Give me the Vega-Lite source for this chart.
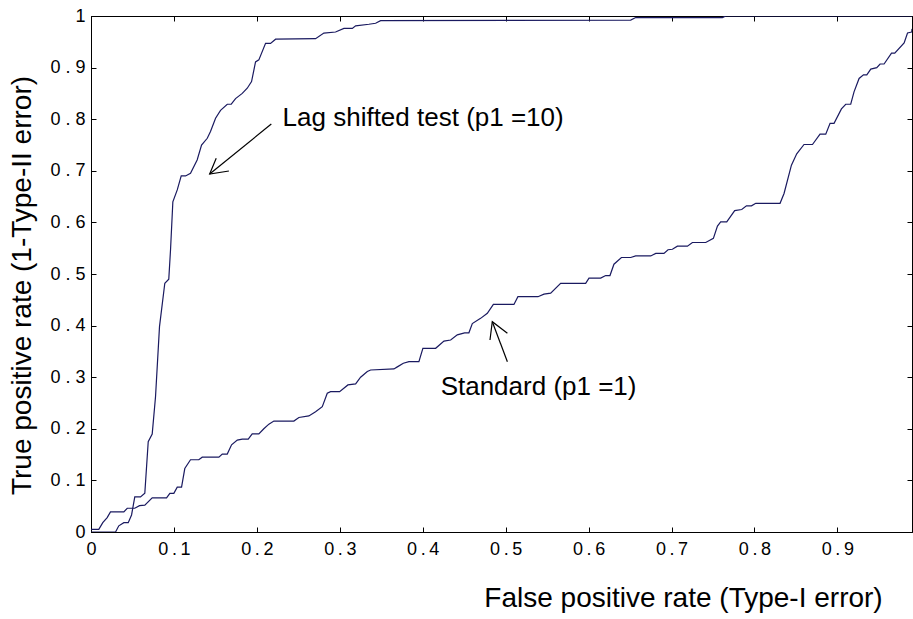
{
  "$schema": "https://vega.github.io/schema/vega-lite/v6.json",
  "width": 821,
  "height": 516,
  "autosize": "none",
  "padding": {"left": 91, "top": 16, "right": 1, "bottom": 87},
  "background": "white",
  "config": {
    "view": {"stroke": "black", "strokeWidth": 1},
    "font": "Liberation Sans",
    "axis": {"grid": false, "domainColor": "black", "tickColor": "black", "labelColor": "black", "titleColor": "black", "labelFont": "Liberation Sans", "titleFont": "Liberation Sans", "titleFontWeight": "normal"}
  },
  "datasets": {
    "curves": [
      {"s": "lag", "x": 0, "y": 0},
      {"s": "lag", "x": 0.0296, "y": 0},
      {"s": "lag", "x": 0.0335, "y": 0.012},
      {"s": "lag", "x": 0.0396, "y": 0.018},
      {"s": "lag", "x": 0.0449, "y": 0.018},
      {"s": "lag", "x": 0.0489, "y": 0.033},
      {"s": "lag", "x": 0.0528, "y": 0.068},
      {"s": "lag", "x": 0.0597, "y": 0.068},
      {"s": "lag", "x": 0.0649, "y": 0.075},
      {"s": "lag", "x": 0.069, "y": 0.175},
      {"s": "lag", "x": 0.0738, "y": 0.19},
      {"s": "lag", "x": 0.0778, "y": 0.262},
      {"s": "lag", "x": 0.0826, "y": 0.398},
      {"s": "lag", "x": 0.089, "y": 0.482},
      {"s": "lag", "x": 0.0938, "y": 0.49},
      {"s": "lag", "x": 0.0959, "y": 0.547},
      {"s": "lag", "x": 0.0987, "y": 0.64},
      {"s": "lag", "x": 0.104, "y": 0.663},
      {"s": "lag", "x": 0.1088, "y": 0.69},
      {"s": "lag", "x": 0.114, "y": 0.69},
      {"s": "lag", "x": 0.12, "y": 0.695},
      {"s": "lag", "x": 0.128, "y": 0.721},
      {"s": "lag", "x": 0.1333, "y": 0.75},
      {"s": "lag", "x": 0.1402, "y": 0.763},
      {"s": "lag", "x": 0.1441, "y": 0.776},
      {"s": "lag", "x": 0.1502, "y": 0.802},
      {"s": "lag", "x": 0.1562, "y": 0.817},
      {"s": "lag", "x": 0.1643, "y": 0.829},
      {"s": "lag", "x": 0.1691, "y": 0.829},
      {"s": "lag", "x": 0.1743, "y": 0.84},
      {"s": "lag", "x": 0.1824, "y": 0.85},
      {"s": "lag", "x": 0.1884, "y": 0.86},
      {"s": "lag", "x": 0.1936, "y": 0.873},
      {"s": "lag", "x": 0.1984, "y": 0.911},
      {"s": "lag", "x": 0.2024, "y": 0.915},
      {"s": "lag", "x": 0.2105, "y": 0.947},
      {"s": "lag", "x": 0.2165, "y": 0.947},
      {"s": "lag", "x": 0.2226, "y": 0.955},
      {"s": "lag", "x": 0.2708, "y": 0.956},
      {"s": "lag", "x": 0.2808, "y": 0.967},
      {"s": "lag", "x": 0.2949, "y": 0.969},
      {"s": "lag", "x": 0.305, "y": 0.976},
      {"s": "lag", "x": 0.3151, "y": 0.976},
      {"s": "lag", "x": 0.3191, "y": 0.981},
      {"s": "lag", "x": 0.3351, "y": 0.984},
      {"s": "lag", "x": 0.3432, "y": 0.986},
      {"s": "lag", "x": 0.3492, "y": 0.991},
      {"s": "lag", "x": 0.6508, "y": 0.992},
      {"s": "lag", "x": 0.6568, "y": 0.997},
      {"s": "lag", "x": 0.7614, "y": 0.997},
      {"s": "lag", "x": 0.7654, "y": 1.0},
      {"s": "lag", "x": 0.99, "y": 1.0},
      {"s": "std", "x": 0, "y": 0.005},
      {"s": "std", "x": 0.0094, "y": 0.005},
      {"s": "std", "x": 0.0142, "y": 0.018},
      {"s": "std", "x": 0.0195, "y": 0.028},
      {"s": "std", "x": 0.0235, "y": 0.039},
      {"s": "std", "x": 0.0396, "y": 0.039},
      {"s": "std", "x": 0.0437, "y": 0.046},
      {"s": "std", "x": 0.0528, "y": 0.046},
      {"s": "std", "x": 0.0585, "y": 0.051},
      {"s": "std", "x": 0.0649, "y": 0.052},
      {"s": "std", "x": 0.0738, "y": 0.066},
      {"s": "std", "x": 0.0911, "y": 0.066},
      {"s": "std", "x": 0.0951, "y": 0.075},
      {"s": "std", "x": 0.0999, "y": 0.075},
      {"s": "std", "x": 0.104, "y": 0.087},
      {"s": "std", "x": 0.1092, "y": 0.087},
      {"s": "std", "x": 0.1131, "y": 0.123},
      {"s": "std", "x": 0.12, "y": 0.14},
      {"s": "std", "x": 0.13, "y": 0.14},
      {"s": "std", "x": 0.1341, "y": 0.145},
      {"s": "std", "x": 0.1542, "y": 0.145},
      {"s": "std", "x": 0.1583, "y": 0.151},
      {"s": "std", "x": 0.1643, "y": 0.151},
      {"s": "std", "x": 0.1695, "y": 0.169},
      {"s": "std", "x": 0.1764, "y": 0.178},
      {"s": "std", "x": 0.1824, "y": 0.18},
      {"s": "std", "x": 0.1896, "y": 0.18},
      {"s": "std", "x": 0.1944, "y": 0.19},
      {"s": "std", "x": 0.2024, "y": 0.19},
      {"s": "std", "x": 0.2084, "y": 0.2},
      {"s": "std", "x": 0.2145, "y": 0.209},
      {"s": "std", "x": 0.2205, "y": 0.215},
      {"s": "std", "x": 0.2446, "y": 0.215},
      {"s": "std", "x": 0.2507, "y": 0.222},
      {"s": "std", "x": 0.2627, "y": 0.225},
      {"s": "std", "x": 0.2708, "y": 0.233},
      {"s": "std", "x": 0.2789, "y": 0.243},
      {"s": "std", "x": 0.2849, "y": 0.269},
      {"s": "std", "x": 0.2889, "y": 0.272},
      {"s": "std", "x": 0.2998, "y": 0.272},
      {"s": "std", "x": 0.3098, "y": 0.285},
      {"s": "std", "x": 0.3191, "y": 0.287},
      {"s": "std", "x": 0.3251, "y": 0.3},
      {"s": "std", "x": 0.3332, "y": 0.311},
      {"s": "std", "x": 0.3372, "y": 0.314},
      {"s": "std", "x": 0.3653, "y": 0.316},
      {"s": "std", "x": 0.3694, "y": 0.32},
      {"s": "std", "x": 0.3766, "y": 0.327},
      {"s": "std", "x": 0.3834, "y": 0.33},
      {"s": "std", "x": 0.3954, "y": 0.33},
      {"s": "std", "x": 0.4002, "y": 0.356},
      {"s": "std", "x": 0.4156, "y": 0.356},
      {"s": "std", "x": 0.4256, "y": 0.37},
      {"s": "std", "x": 0.4337, "y": 0.372},
      {"s": "std", "x": 0.4417, "y": 0.382},
      {"s": "std", "x": 0.4505, "y": 0.386},
      {"s": "std", "x": 0.4557, "y": 0.386},
      {"s": "std", "x": 0.4598, "y": 0.404},
      {"s": "std", "x": 0.4698, "y": 0.414},
      {"s": "std", "x": 0.4779, "y": 0.424},
      {"s": "std", "x": 0.4852, "y": 0.441},
      {"s": "std", "x": 0.51, "y": 0.441},
      {"s": "std", "x": 0.5148, "y": 0.456},
      {"s": "std", "x": 0.539, "y": 0.456},
      {"s": "std", "x": 0.5462, "y": 0.461},
      {"s": "std", "x": 0.5543, "y": 0.463},
      {"s": "std", "x": 0.5663, "y": 0.482},
      {"s": "std", "x": 0.5965, "y": 0.482},
      {"s": "std", "x": 0.6005, "y": 0.492},
      {"s": "std", "x": 0.6146, "y": 0.492},
      {"s": "std", "x": 0.6206, "y": 0.497},
      {"s": "std", "x": 0.6258, "y": 0.497},
      {"s": "std", "x": 0.6306, "y": 0.519},
      {"s": "std", "x": 0.6396, "y": 0.532},
      {"s": "std", "x": 0.6508, "y": 0.532},
      {"s": "std", "x": 0.6568, "y": 0.535},
      {"s": "std", "x": 0.675, "y": 0.535},
      {"s": "std", "x": 0.681, "y": 0.54},
      {"s": "std", "x": 0.6909, "y": 0.54},
      {"s": "std", "x": 0.6958, "y": 0.547},
      {"s": "std", "x": 0.7011, "y": 0.548},
      {"s": "std", "x": 0.7071, "y": 0.554},
      {"s": "std", "x": 0.7192, "y": 0.554},
      {"s": "std", "x": 0.7252, "y": 0.561},
      {"s": "std", "x": 0.7413, "y": 0.561},
      {"s": "std", "x": 0.7505, "y": 0.569},
      {"s": "std", "x": 0.7554, "y": 0.593},
      {"s": "std", "x": 0.7593, "y": 0.601},
      {"s": "std", "x": 0.7666, "y": 0.601},
      {"s": "std", "x": 0.7762, "y": 0.623},
      {"s": "std", "x": 0.7847, "y": 0.625},
      {"s": "std", "x": 0.7904, "y": 0.632},
      {"s": "std", "x": 0.7964, "y": 0.632},
      {"s": "std", "x": 0.8016, "y": 0.637},
      {"s": "std", "x": 0.8309, "y": 0.637},
      {"s": "std", "x": 0.8357, "y": 0.656},
      {"s": "std", "x": 0.8446, "y": 0.711},
      {"s": "std", "x": 0.851, "y": 0.733},
      {"s": "std", "x": 0.8598, "y": 0.751},
      {"s": "std", "x": 0.87, "y": 0.751},
      {"s": "std", "x": 0.8791, "y": 0.771},
      {"s": "std", "x": 0.886, "y": 0.771},
      {"s": "std", "x": 0.8912, "y": 0.792},
      {"s": "std", "x": 0.896, "y": 0.792},
      {"s": "std", "x": 0.9049, "y": 0.82},
      {"s": "std", "x": 0.9101, "y": 0.829},
      {"s": "std", "x": 0.9161, "y": 0.829},
      {"s": "std", "x": 0.9201, "y": 0.853},
      {"s": "std", "x": 0.9262, "y": 0.879},
      {"s": "std", "x": 0.9315, "y": 0.886},
      {"s": "std", "x": 0.9355, "y": 0.886},
      {"s": "std", "x": 0.9403, "y": 0.897},
      {"s": "std", "x": 0.9475, "y": 0.9},
      {"s": "std", "x": 0.9515, "y": 0.907},
      {"s": "std", "x": 0.9563, "y": 0.907},
      {"s": "std", "x": 0.9653, "y": 0.928},
      {"s": "std", "x": 0.9692, "y": 0.928},
      {"s": "std", "x": 0.9805, "y": 0.948},
      {"s": "std", "x": 0.9846, "y": 0.967},
      {"s": "std", "x": 0.9897, "y": 0.969},
      {"s": "std", "x": 0.99, "y": 0.975}
    ],
    "arrows": [
      {"g": "a1", "o": 1, "x": 0.2174, "y": 0.7907},
      {"g": "a1", "o": 2, "x": 0.1431, "y": 0.6938},
      {"g": "a1h", "o": 1, "x": 0.1663, "y": 0.6996},
      {"g": "a1h", "o": 2, "x": 0.1431, "y": 0.6938},
      {"g": "a1h", "o": 3, "x": 0.151, "y": 0.7244},
      {"g": "a2", "o": 1, "x": 0.5021, "y": 0.33},
      {"g": "a2", "o": 2, "x": 0.4839, "y": 0.4076},
      {"g": "a2h", "o": 1, "x": 0.4811, "y": 0.3721},
      {"g": "a2h", "o": 2, "x": 0.4839, "y": 0.4076},
      {"g": "a2h", "o": 3, "x": 0.5021, "y": 0.3851}
    ],
    "labels": [
      {"x": 0.231, "y": 0.802, "t": "Lag shifted test (p1 =10)"},
      {"x": 0.4216, "y": 0.281, "t": "Standard (p1 =1)"}
    ]
  },
  "layer": [
    {
      "data": {"name": "curves"},
      "mark": {"type": "line", "color": "#1a1a60", "strokeWidth": 1.2, "clip": true},
      "encoding": {
        "x": {"field": "x", "type": "quantitative", "scale": {"domain": [0, 0.99], "nice": false, "zero": false},
          "axis": {"orient": "bottom", "values": [0, 0.1, 0.2, 0.3, 0.4, 0.5, 0.6, 0.7, 0.8, 0.9], "tickSize": -5, "labelPadding": 13, "labelFontSize": 18, "labelExpr": "replace(format(datum.value, '.1~f'), '.', '\u2009.\u2009')", "labelFlush": false, "title": "False positive rate (Type-I error)", "titleFontSize": 28, "titleX": 592, "titleY": 66, "titleAlign": "center", "titleBaseline": "middle"}},
        "y": {"field": "y", "type": "quantitative", "scale": {"domain": [0, 1], "nice": false},
          "axis": {"orient": "left", "values": [0, 0.1, 0.2, 0.3, 0.4, 0.5, 0.6, 0.7, 0.8, 0.9, 1], "tickSize": -5, "labelPadding": 11, "labelFontSize": 18, "labelExpr": "replace(format(datum.value, '.1~f'), '.', ' . ')", "labelFlush": false, "title": "True positive rate (1-Type-II error)", "titleFontSize": 28, "titleX": -69, "titleY": 269, "titleAngle": -90, "titleAlign": "center", "titleBaseline": "middle"}},
        "detail": {"field": "s"}
      }
    },
    {
      "data": {"name": "curves"},
      "mark": {"type": "point", "opacity": 0},
      "encoding": {
        "x": {"field": "x", "type": "quantitative", "axis": {"orient": "top", "values": [0, 0.1, 0.2, 0.3, 0.4, 0.5, 0.6, 0.7, 0.8, 0.9], "tickSize": -5, "labels": false, "title": null}},
        "y": {"field": "y", "type": "quantitative", "axis": {"orient": "right", "values": [0, 0.1, 0.2, 0.3, 0.4, 0.5, 0.6, 0.7, 0.8, 0.9, 1], "tickSize": -5, "labels": false, "title": null}}
      }
    },
    {
      "data": {"name": "arrows"},
      "mark": {"type": "line", "color": "black", "strokeWidth": 1.2},
      "encoding": {
        "x": {"field": "x", "type": "quantitative", "axis": null},
        "y": {"field": "y", "type": "quantitative", "axis": null},
        "detail": {"field": "g"},
        "order": {"field": "o"}
      }
    },
    {
      "data": {"name": "labels"},
      "mark": {"type": "text", "align": "left", "baseline": "middle", "fontSize": 26, "font": "Liberation Sans", "color": "black"},
      "encoding": {
        "x": {"field": "x", "type": "quantitative", "axis": null},
        "y": {"field": "y", "type": "quantitative", "axis": null},
        "text": {"field": "t"}
      }
    }
  ],
  "resolve": {"axis": {"x": "independent", "y": "independent"}}
}
